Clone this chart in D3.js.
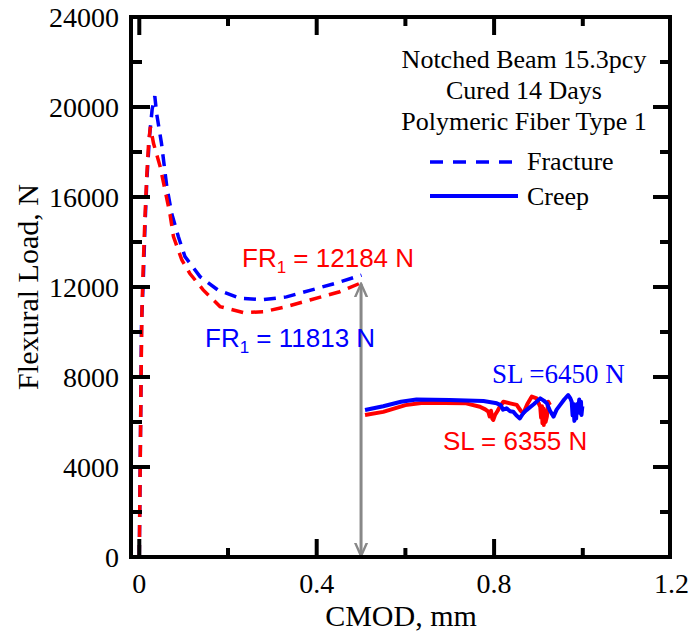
<!DOCTYPE html>
<html>
<head>
<meta charset="utf-8">
<script src="https://cdn.jsdelivr.net/npm/d3@7"></script>
<style>
  body { margin: 0; background: #fff; }
  svg text { font-family: "Liberation Serif", "Times New Roman", serif; }
  .sans { font-family: "Liberation Sans", Arial, sans-serif !important; }
</style>
</head>
<body>
<div id="chart"></div>
<script>
const W = 691, H = 638;
const plot = { left: 131, right: 670, top: 17, bottom: 557 };

const xMajor = [0, 0.4, 0.8, 1.2];
const xMinor = [0.2, 0.6, 1.0];
const yMajor = [0, 4000, 8000, 12000, 16000, 20000, 24000];
const yMinor = [2000, 6000, 10000, 14000, 18000, 22000];

const legendLines = ["Notched Beam 15.3pcy", "Cured 14 Days", "Polymeric Fiber Type 1"];

// fracture test (dashed), [CMOD mm, load N]
const fractureBlue = [
	[0, 0], [0.002, 4000], [0.004, 8000], [0.005, 10400], [0.009, 12300], [0.013, 14800],
	[0.017, 16750], [0.023, 18700], [0.029, 19900], [0.035, 20480], [0.039, 19720],
	[0.050, 18390], [0.062, 16460], [0.073, 15270], [0.088, 14240], [0.103, 13350],
	[0.137, 12460], [0.177, 11870], [0.227, 11500], [0.280, 11440], [0.332, 11560],
	[0.387, 11860], [0.445, 12180], [0.490, 12460], [0.501, 12530]
];
const fractureRed = [
	[0, 0], [0.002, 4000], [0.004, 8000], [0.006, 11000], [0.009, 13000], [0.013, 15200],
	[0.017, 17000], [0.021, 18400], [0.025, 19120], [0.032, 18390], [0.047, 17350],
	[0.058, 16310], [0.069, 15270], [0.077, 14240], [0.096, 13200], [0.114, 12600],
	[0.144, 11870], [0.182, 11130], [0.235, 10860], [0.280, 10900], [0.332, 11130],
	[0.385, 11420], [0.452, 11790], [0.497, 12160]
];

// creep test (solid)
const creepBlue = [
	[0.509, 6530], [0.55, 6700], [0.59, 6900], [0.625, 7000], [0.70, 6980], [0.776, 6930],
	[0.806, 6830], [0.815, 6750], [0.820, 6550], [0.828, 6610], [0.836, 6480], [0.843, 6460],
	[0.850, 6300], [0.858, 6160], [0.866, 6400], [0.873, 6530], [0.890, 6800], [0.904, 7050],
	[0.912, 6950], [0.919, 6830], [0.926, 6500], [0.934, 6240], [0.941, 6550], [0.949, 6760],
	[0.958, 7000], [0.967, 7200], [0.972, 7050], [0.975, 6900], [0.977, 6300], [0.979, 6800],
	[0.981, 6050], [0.983, 6600], [0.985, 6150], [0.987, 6800], [0.990, 6680], [0.992, 7000],
	[0.994, 6400], [0.996, 6900], [0.997, 6310], [0.999, 6700]
];
const creepRed = [
	[0.509, 6310], [0.55, 6450], [0.60, 6750], [0.64, 6860], [0.737, 6830], [0.768, 6680],
	[0.780, 6560], [0.787, 6460], [0.790, 6250], [0.793, 6500], [0.796, 6150], [0.798, 6090],
	[0.802, 6310], [0.808, 6500], [0.812, 6650], [0.821, 6900], [0.836, 6830], [0.851, 6760],
	[0.860, 6500], [0.866, 6390], [0.875, 6800], [0.885, 7130], [0.896, 7050], [0.900, 6850],
	[0.904, 6680], [0.906, 6200], [0.908, 6700], [0.909, 5950], [0.911, 6600], [0.912, 5870],
	[0.914, 6500], [0.916, 6000], [0.919, 6240], [0.921, 6700], [0.922, 6900], [0.926, 6760]
];

const frRed = 12184, frBlue = 11813, slBlue = 6450, slRed = 6355;
const arrowX = 0.5;

const x = d3.scaleLinear().domain([-0.0187, 1.2]).range([plot.left, 671.5]);
const y = d3.scaleLinear().domain([0, 24000]).range([plot.bottom, plot.top]);

const svg = d3.select("#chart").append("svg").attr("width", W).attr("height", H);

svg.append("defs").append("marker")
	.attr("id", "arr").attr("viewBox", "0 0 10 10").attr("refX", 9).attr("refY", 5)
	.attr("markerWidth", 5).attr("markerHeight", 5).attr("markerUnits", "strokeWidth")
	.attr("orient", "auto-start-reverse")
	.append("path").attr("d", "M0,1 L9,5 L0,9").attr("fill", "none")
	.attr("stroke", "#888").attr("stroke-width", 1.6);

const line = d3.line().x(d => x(d[0])).y(d => y(d[1]));

// fracture curves
svg.append("path").datum(fractureBlue).attr("d", line)
	.attr("fill", "none").attr("stroke", "#0000ff").attr("stroke-width", 3.5)
	.attr("stroke-dasharray", "12,8");
svg.append("path").datum(fractureRed).attr("d", line)
	.attr("fill", "none").attr("stroke", "#ff0000").attr("stroke-width", 3.5)
	.attr("stroke-dasharray", "12,8");

// creep curves
svg.append("path").datum(creepRed).attr("d", line)
	.attr("fill", "none").attr("stroke", "#ff0000").attr("stroke-width", 4).attr("stroke-linejoin", "round");
svg.append("path").datum(creepBlue).attr("d", line)
	.attr("fill", "none").attr("stroke", "#0000ff").attr("stroke-width", 4).attr("stroke-linejoin", "round");

// double arrow
svg.append("line")
	.attr("x1", x(arrowX)).attr("x2", x(arrowX))
	.attr("y1", y(frRed) + 1).attr("y2", y(0) - 1)
	.attr("stroke", "#888").attr("stroke-width", 3)
	.attr("marker-start", "url(#arr)").attr("marker-end", "url(#arr)");

// axes frame
const axisG = svg.append("g").attr("stroke", "#000").attr("stroke-width", 4);
axisG.append("rect")
	.attr("x", plot.left).attr("y", plot.top)
	.attr("width", plot.right - plot.left).attr("height", plot.bottom - plot.top)
	.attr("fill", "none");

function xTicks(vals, len) {
	vals.forEach(v => {
		axisG.append("line").attr("x1", x(v)).attr("x2", x(v)).attr("y1", plot.bottom).attr("y2", plot.bottom - len);
		axisG.append("line").attr("x1", x(v)).attr("x2", x(v)).attr("y1", plot.top).attr("y2", plot.top + len);
	});
}
function yTicks(vals, lenL, lenR) {
	vals.forEach(v => {
		axisG.append("line").attr("x1", plot.left).attr("x2", plot.left + lenL).attr("y1", y(v)).attr("y2", y(v));
		axisG.append("line").attr("x1", plot.right).attr("x2", plot.right - lenR).attr("y1", y(v)).attr("y2", y(v));
	});
}
xTicks(xMajor.filter(v => v < 1.2), 18);
xTicks(xMinor, 9);
yTicks(yMajor.filter(v => v > 0 && v < 24000), 19, 17);
yTicks(yMinor, 11, 10);

svg.selectAll(".xlab").data(xMajor).enter().append("text")
	.attr("x", d => x(d)).attr("y", 593)
	.attr("text-anchor", "middle").attr("font-size", 28)
	.text(d => d === 0 ? "0" : d.toFixed(1));

svg.selectAll(".ylab").data(yMajor).enter().append("text")
	.attr("x", 119).attr("y", d => y(d) + 9.5)
	.attr("text-anchor", "end").attr("font-size", 28)
	.text(d => d);

svg.append("text").attr("x", 401).attr("y", 626)
	.attr("text-anchor", "middle").attr("font-size", 30).text("CMOD, mm");
svg.append("text").attr("transform", "translate(38,287) rotate(-90)")
	.attr("text-anchor", "middle").attr("font-size", 30).text("Flexural Load, N");

// legend
legendLines.forEach((t, i) => {
	svg.append("text").attr("x", 524).attr("y", 68 + i * 31)
		.attr("text-anchor", "middle").attr("font-size", 26).text(t);
});
svg.append("line").attr("x1", 430).attr("x2", 514).attr("y1", 162).attr("y2", 162)
	.attr("stroke", "#0000ff").attr("stroke-width", 3.5).attr("stroke-dasharray", "13,10");
svg.append("text").attr("x", 527).attr("y", 170).attr("font-size", 26).text("Fracture");
svg.append("line").attr("x1", 430).attr("x2", 518).attr("y1", 196).attr("y2", 196)
	.attr("stroke", "#0000ff").attr("stroke-width", 4);
svg.append("text").attr("x", 527).attr("y", 205).attr("font-size", 26).text("Creep");

// annotations
function frLabel(xp, yp, color, val) {
	const t = svg.append("text").attr("class", "sans").attr("x", xp).attr("y", yp)
		.attr("font-size", 26).attr("fill", color);
	t.append("tspan").text("FR");
	t.append("tspan").attr("font-size", 17).attr("dy", 6).text("1");
	t.append("tspan").attr("dy", -6).text(" = " + val + " N");
}
frLabel(242, 267, "#ff0000", frRed);
frLabel(205, 347, "#0000ff", frBlue);

svg.append("text").attr("x", 492).attr("y", 383).attr("font-size", 27)
	.attr("fill", "#0000ff").text("SL =" + slBlue + " N");
svg.append("text").attr("class", "sans").attr("x", 443).attr("y", 450).attr("font-size", 26)
	.attr("fill", "#ff0000").text("SL = " + slRed + " N");
</script>
</body>
</html>
